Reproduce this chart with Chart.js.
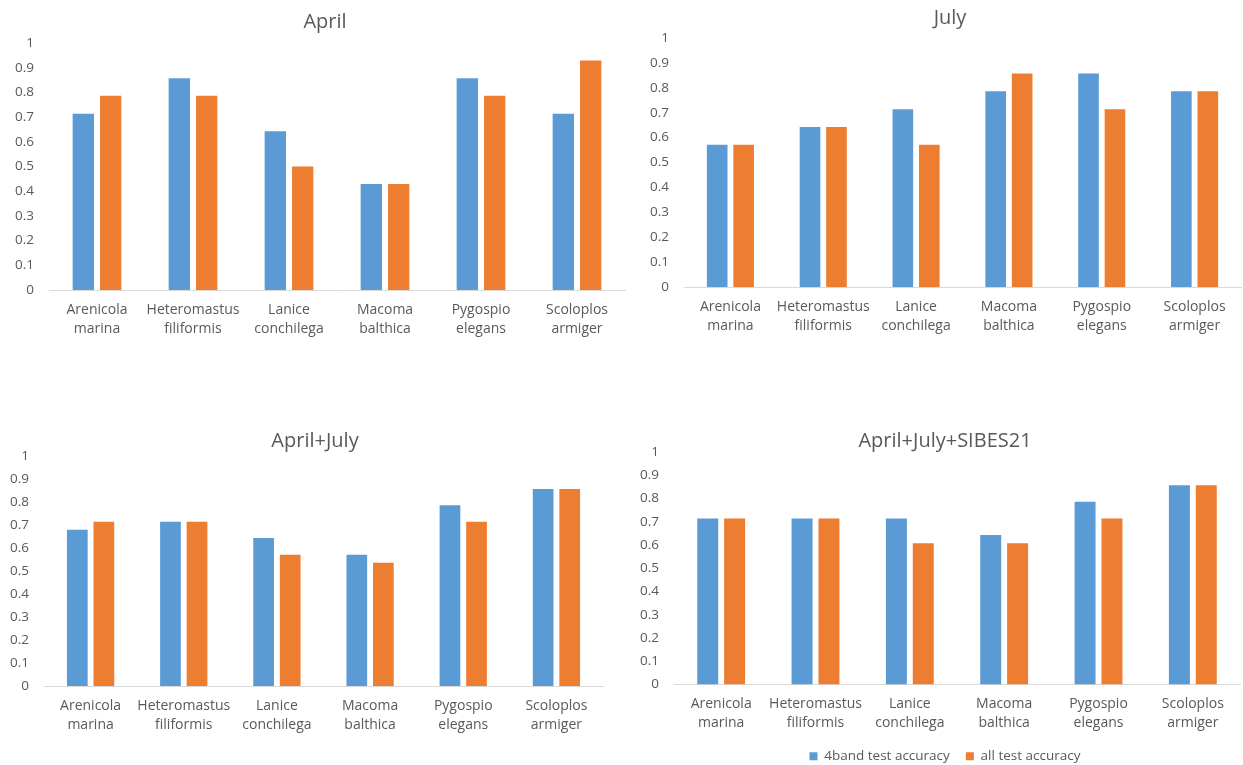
<!DOCTYPE html>
<html>
<head>
<meta charset="utf-8">
<script src="https://cdn.jsdelivr.net/npm/chart.js@4/dist/chart.umd.min.js"></script>
<style>
  html, body { margin: 0; padding: 0; background: #fff; overflow: hidden; width: 1243px; height: 765px; }
  canvas { position: absolute; }
</style>
</head>
<body>
<canvas id="april" width="650" height="345" style="left:0px;top:0px"></canvas>
<canvas id="july" width="640" height="345" style="left:630px;top:0px"></canvas>
<canvas id="aprJul" width="630" height="345" style="left:0px;top:420px"></canvas>
<canvas id="sibes" width="630" height="353" style="left:630px;top:420px"></canvas>
<script>
const categories = [
    ["Arenicola", "marina"],
    ["Heteromastus", "filiformis"],
    ["Lanice", "conchilega"],
    ["Macoma", "balthica"],
    ["Pygospio", "elegans"],
    ["Scoloplos", "armiger"]
];
const seriesNames = ["4band test accuracy", "all test accuracy"];

const aprilBand = [0.714, 0.857, 0.643, 0.429, 0.857, 0.714];
const aprilAll = [0.786, 0.786, 0.5, 0.429, 0.786, 0.929];
const julyBand = [0.571, 0.643, 0.714, 0.786, 0.857, 0.786];
const julyAll = [0.571, 0.643, 0.571, 0.857, 0.714, 0.786];
const aprJulBand = [0.679, 0.714, 0.643, 0.571, 0.786, 0.857];
const aprJulAll = [0.714, 0.714, 0.571, 0.536, 0.714, 0.857];
const sibesBand = [0.714, 0.714, 0.714, 0.643, 0.786, 0.857];
const sibesAll = [0.714, 0.714, 0.607, 0.607, 0.714, 0.857];

const BLUE = "#5B9BD5";
const ORANGE = "#ED7D31";
const TEXT = "#595959";

Chart.defaults.font.family = "'Open Sans', sans-serif";
Chart.defaults.color = TEXT;

function makeChart(id, title, band, all, lay) {
    const canvas = document.getElementById(id);
    return new Chart(canvas, {
        type: "bar",
        data: {
            labels: categories,
            datasets: [
                { label: seriesNames[0], data: band, backgroundColor: BLUE },
                { label: seriesNames[1], data: all, backgroundColor: ORANGE }
            ]
        },
        options: {
            responsive: false,
            animation: false,
            categoryPercentage: 0.57,
            barPercentage: 0.78,
            layout: { padding: 0 },
            scales: {
                x: {
                    grid: { display: false, drawTicks: false },
                    border: { display: true, color: "#D9D9D9", width: 1 },
                    ticks: {
                        padding: 10,
                        maxRotation: 0,
                        autoSkip: false,
                        font: { size: 14, lineHeight: 1.36 }
                    },
                    afterFit: s => { s.height = lay.xHeight; }
                },
                y: {
                    min: 0,
                    max: 1,
                    grid: { display: false, drawTicks: false },
                    border: { display: false },
                    ticks: {
                        stepSize: 0.1,
                        padding: 15,
                        font: { size: 13.5 },
                        callback: v => String(Number(v.toFixed(1)))
                    },
                    afterFit: s => { s.width = lay.yWidth; }
                },
                // empty right axis keeps the title centred on the whole panel
                y2: {
                    position: "right",
                    grid: { display: false, drawTicks: false },
                    border: { display: false },
                    ticks: { display: false },
                    afterFit: s => { s.width = lay.rightWidth; }
                }
            },
            plugins: {
                title: {
                    display: true,
                    text: title,
                    color: TEXT,
                    font: { size: 20, weight: "normal", lineHeight: 1 },
                    padding: { top: lay.titleTop, bottom: lay.titleBottom }
                },
                legend: {
                    display: !!lay.legend,
                    position: "bottom",
                    labels: {
                        boxWidth: 8,
                        boxHeight: 8,
                        padding: 16,
                        color: TEXT,
                        font: { size: 13.5 }
                    }
                },
                tooltip: { enabled: false }
            }
        }
    });
}

makeChart("april", "April", aprilBand, aprilAll,
    { yWidth: 49, rightWidth: 25, titleTop: 12, titleBottom: 11, xHeight: 55 });
makeChart("july", "July", julyBand, julyAll,
    { yWidth: 54, rightWidth: 29, titleTop: 8, titleBottom: 10, xHeight: 58 });
makeChart("aprJul", "April+July", aprJulBand, aprJulAll,
    { yWidth: 44, rightWidth: 27, titleTop: 11, titleBottom: 5, xHeight: 79 });
makeChart("sibes", "April+July+SIBES21", sibesBand, sibesAll,
    { yWidth: 44, rightWidth: 20, titleTop: 11, titleBottom: 1, xHeight: 49, legend: true });
</script>
</body>
</html>
